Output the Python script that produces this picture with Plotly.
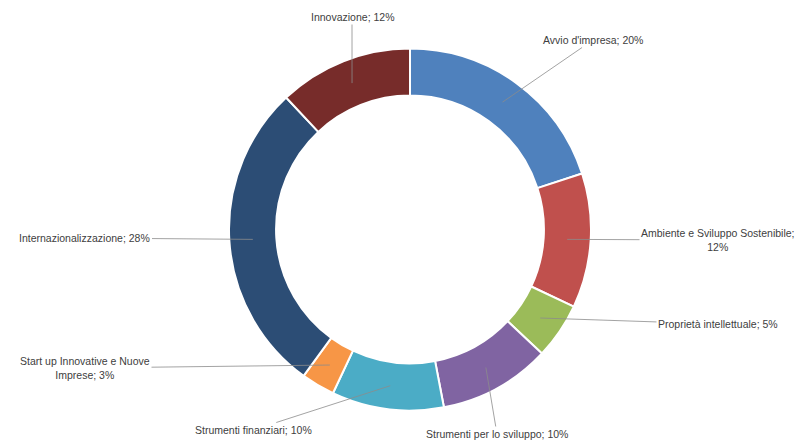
import math
import plotly.graph_objects as go

labels = ["Avvio d'impresa", "Ambiente e Sviluppo Sostenibile", "Proprietà intellettuale",
          "Strumenti per lo sviluppo", "Strumenti finanziari", "Start up Innovative e Nuove Imprese",
          "Internazionalizzazione", "Innovazione"]
values = [20, 12, 5, 10, 10, 3, 28, 12]
label_texts = ["Avvio d'impresa; 20%", "Ambiente e Sviluppo Sostenibile;<br>12%",
               "Proprietà intellettuale; 5%", "Strumenti per lo sviluppo; 10%",
               "Strumenti finanziari; 10%", "Start up Innovative e Nuove<br>Imprese; 3%",
               "Internazionalizzazione; 28%", "Innovazione; 12%"]
colors = ["#4F81BD", "#C0504D", "#9BBB59", "#8064A2", "#4BACC6", "#F79646", "#2C4D75", "#772C2A"]

W, H = 807, 443
CX, CY, R = 410, 229.5, 181
HOLE = 0.74

# label text centres (pixels), styling only
text_pos = [(593, 40), (718, 240), (718, 324), (497, 434), (253, 430), (85, 368), (85, 238), (352, 17)]

fig = go.Figure(go.Pie(
    labels=labels, values=values, sort=False, direction="clockwise", rotation=0,
    hole=HOLE, textinfo="none", hoverinfo="label+percent",
    marker=dict(colors=colors, line=dict(color="white", width=2)),
    domain=dict(x=[(CX - R) / W, (CX + R) / W], y=[(H - CY - R) / H, (H - CY + R) / H]),
    showlegend=False,
))

total = sum(values)
cum = 0
annotations = []
rmid = R * (1 + HOLE) / 2
for v, t, (tx, ty) in zip(values, label_texts, text_pos):
    mid = (cum + v / 2) / total * 2 * math.pi
    cum += v
    px = CX + rmid * math.sin(mid)
    py = CY - rmid * math.cos(mid)
    annotations.append(dict(
        x=px / W, y=(H - py) / H, xref="paper", yref="paper",
        text=t, showarrow=True, arrowhead=0, arrowwidth=0.8, arrowcolor="#8c8c8c",
        ax=tx - px, ay=ty - py, axref="pixel", ayref="pixel",
        font=dict(family="Liberation Sans, Arial, sans-serif", size=10.5, color="#404040"),
        align="center", standoff=0,
    ))

fig.update_layout(
    width=W, height=H, margin=dict(l=0, r=0, t=0, b=0),
    paper_bgcolor="white", plot_bgcolor="white",
    annotations=annotations,
)
fig.write_html("out.html", config={"displayModeBar": False},
               post_script="document.body.style.margin='0';")
